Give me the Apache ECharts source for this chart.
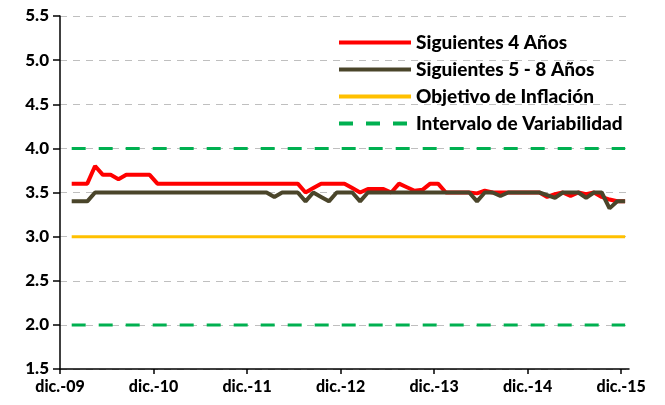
<!DOCTYPE html>
<html>
<head>
<meta charset="utf-8">
<script src="https://cdn.jsdelivr.net/npm/echarts@6/dist/echarts.min.js"></script>
<style>
  html, body { margin: 0; padding: 0; background: #fff; }
  #main { width: 665px; height: 405px; }
</style>
</head>
<body>
<div id="main"></div>
<script>
// tick labels every 12 months, starting at dic.-09
var tickLabels = ['dic.-09', 'dic.-10', 'dic.-11', 'dic.-12', 'dic.-13', 'dic.-14', 'dic.-15'];

// monthly expectations (ene.-10 .. dic.-15)
var siguientes4 = [
  3.6, 3.6, 3.6, 3.8, 3.7, 3.7, 3.65, 3.7, 3.7, 3.7, 3.7, 3.6,
  3.6, 3.6, 3.6, 3.6, 3.6, 3.6, 3.6, 3.6, 3.6, 3.6, 3.6, 3.6,
  3.6, 3.6, 3.6, 3.6, 3.6, 3.6, 3.5, 3.55, 3.6, 3.6, 3.6, 3.6,
  3.55, 3.5, 3.54, 3.54, 3.54, 3.5, 3.6, 3.56, 3.52, 3.53, 3.6, 3.6,
  3.5, 3.5, 3.5, 3.5, 3.49, 3.52, 3.5, 3.5, 3.5, 3.5, 3.5, 3.5,
  3.5, 3.45, 3.48, 3.5, 3.46, 3.5, 3.48, 3.5, 3.45, 3.42, 3.4, 3.4
];
var siguientes58 = [
  3.4, 3.4, 3.4, 3.5, 3.5, 3.5, 3.5, 3.5, 3.5, 3.5, 3.5, 3.5,
  3.5, 3.5, 3.5, 3.5, 3.5, 3.5, 3.5, 3.5, 3.5, 3.5, 3.5, 3.5,
  3.5, 3.5, 3.45, 3.5, 3.5, 3.5, 3.4, 3.5, 3.45, 3.4, 3.5, 3.5,
  3.5, 3.4, 3.5, 3.5, 3.5, 3.5, 3.5, 3.5, 3.5, 3.5, 3.5, 3.5,
  3.5, 3.5, 3.5, 3.5, 3.4, 3.5, 3.5, 3.46, 3.5, 3.5, 3.5, 3.5,
  3.5, 3.47, 3.44, 3.5, 3.5, 3.5, 3.44, 3.5, 3.5, 3.32, 3.4, 3.4
];
var objetivo = 3.0;
var intervalo = [4.0, 2.0];

var offset = 1.5; // first point sits 1.5 months after dic.-09
function toPoints(arr) {
  return arr.map(function (v, i) { return [i + offset, v]; });
}
function flat(v) {
  return [[offset, v], [siguientes4.length - 1 + offset, v]];
}

var font = 'Lato, "Open Sans", sans-serif';
var chartDom = document.getElementById('main');
var myChart = echarts.init(chartDom);
var option = {
    animation: false,
    textStyle: { fontFamily: font },
    grid: { left: 60, right: 36, top: 16, bottom: 36, containLabel: false },
    legend: {
        orient: 'vertical',
        left: 332,
        top: 28,
        itemWidth: 72,
        itemHeight: 14,
        itemGap: 8,
        itemStyle: { opacity: 0 },
        lineStyle: { width: 4 },
        textStyle: { fontFamily: font, fontWeight: 900, fontSize: 19, color: '#000' },
        data: ['Siguientes 4 Años', 'Siguientes 5 - 8 Años', 'Objetivo de Inflación', 'Intervalo de Variabilidad']
    },
    xAxis: {
        type: 'value',
        min: 0,
        max: 73,
        interval: 12,
        axisLine: { lineStyle: { color: '#000', width: 1.5 } },
        axisTick: { show: true, length: 5, inside: false, customValues: [0, 12, 24, 36, 48, 60, 72], lineStyle: { color: '#000', width: 1.5 } },
        axisLabel: {
            customValues: [0, 12, 24, 36, 48, 60, 72],
            margin: 10,
            color: '#000',
            fontWeight: 900,
            fontSize: 16,
            fontFamily: font,
            formatter: function (v) { return tickLabels[Math.round(v / 12)] || ''; }
        },
        splitLine: { show: false }
    },
    yAxis: {
        type: 'value',
        min: 1.5,
        max: 5.5,
        interval: 0.5,
        axisLine: { show: true, lineStyle: { color: '#000', width: 1.5 } },
        axisTick: { show: true, length: 7, lineStyle: { color: '#000', width: 1.5 } },
        axisLabel: {
            margin: 11,
            color: '#000',
            fontWeight: 900,
            fontSize: 17,
            fontFamily: font,
            formatter: function (v) { return v.toFixed(1); }
        },
        splitLine: { show: true, lineStyle: { color: '#bfbfbf', type: [7, 6], width: 1 } }
    },
    series: [
        {
            name: 'Intervalo de Variabilidad',
            type: 'line',
            symbol: 'none',
            data: flat(intervalo[0]),
            lineStyle: { color: '#00b050', width: 3, type: [14, 13] },
            itemStyle: { color: '#00b050' },
            z: 2
        },
        {
            name: 'Intervalo de Variabilidad',
            type: 'line',
            symbol: 'none',
            data: flat(intervalo[1]),
            lineStyle: { color: '#00b050', width: 3, type: [14, 13] },
            itemStyle: { color: '#00b050' },
            z: 2
        },
        {
            name: 'Objetivo de Inflación',
            type: 'line',
            symbol: 'none',
            data: flat(objetivo),
            lineStyle: { color: '#ffc000', width: 3 },
            itemStyle: { color: '#ffc000' },
            z: 2
        },
        {
            name: 'Siguientes 4 Años',
            type: 'line',
            symbol: 'none',
            data: toPoints(siguientes4),
            lineStyle: { color: '#ff0000', width: 4 },
            itemStyle: { color: '#ff0000' },
            z: 3
        },
        {
            name: 'Siguientes 5 - 8 Años',
            type: 'line',
            symbol: 'none',
            data: toPoints(siguientes58),
            lineStyle: { color: '#4a452a', width: 4 },
            itemStyle: { color: '#4a452a' },
            z: 4
        }
    ]
};
myChart.setOption(option);
</script>
</body>
</html>
